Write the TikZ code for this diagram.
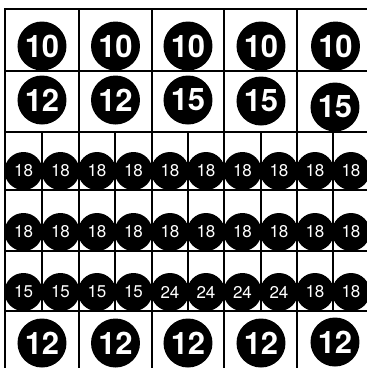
\documentclass[tikz,border=0pt]{standalone}
\usepackage{fontspec}
\newfontfamily\heros{TeX Gyre Heros}

\begin{document}
\begin{tikzpicture}[x=1pt,y=-1pt,
	big/.style={circle,fill=black,minimum size=49pt,inner sep=0pt,text=white,font=\heros\fontsize{31}{31}\selectfont\bfseries},
	small/.style={circle,fill=black,minimum size=38pt,inner sep=0pt,text=white,font=\heros\fontsize{17}{17}\selectfont},
	rule/.style={line width=2.3pt}]
	\definecolor{paper}{gray}{1.}
	\useasboundingbox (0,0) rectangle (367,368);
	\clip (0,0) rectangle (367,368);
	\fill[paper] (0,0) rectangle (367,368);
	%% Lines ------
	\draw[rule] (5,9) -- (369,9);
	\draw[rule] (5,71) -- (369,71);
	\draw[rule] (5,132) -- (369,132);
	\draw[rule] (5,190) -- (369,190);
	\draw[rule] (5,251) -- (369,251);
	\draw[rule] (5,311) -- (369,311);
	\draw[line width=2.8pt] (5,8) -- (5,369);
	\draw[rule] (79,9) -- (79,132) (152,9) -- (152,132) (224,9) -- (224,132) (297,9) -- (297,132);
	\draw[rule] (79,311) -- (79,369) (152,311) -- (152,369) (224,311) -- (224,369) (297,311) -- (297,369);
	\draw[rule] (42,132) -- (42,311) (79,132) -- (79,311) (115,132) -- (115,311) (152,132) -- (152,311) (188,132) -- (188,311);
	\draw[rule] (224,132) -- (224,311) (261,132) -- (261,311) (297,132) -- (297,311) (333,132) -- (333,311);
	%% Row 1 ------
	\node[big] (a1) at (42,46) {10};
	\node[big] (a2) at (115.5,46) {10};
	\node[big] (a3) at (188,46) {10};
	\node[big] (a4) at (261,46) {10};
	\node[big] (a5) at (335.5,46) {10};
	%% Row 2 ------
	\node[big] (b1) at (42,100) {12};
	\node[big] (b2) at (115.5,100) {12};
	\node[big] (b3) at (188,100) {15};
	\node[big] (b4) at (261,101) {15};
	\node[big] (b5) at (335,107) {15};
	%% Row 3 ------
	\node[small] (c1) at (23.5,171) {18};
	\node[small] (c2) at (60.5,171) {18};
	\node[small] (c3) at (97,171) {18};
	\node[small] (c4) at (133.5,171) {18};
	\node[small] (c5) at (170,171) {18};
	\node[small] (c6) at (206,171) {18};
	\node[small] (c7) at (242.5,171) {18};
	\node[small] (c8) at (279,171) {18};
	\node[small] (c9) at (315,171) {18};
	\node[small] (c10) at (351,171) {18};
	%% Row 4 ------
	\node[small] (d1) at (23.5,232) {18};
	\node[small] (d2) at (60.5,232) {18};
	\node[small] (d3) at (97,232) {18};
	\node[small] (d4) at (133.5,232) {18};
	\node[small] (d5) at (170,232) {18};
	\node[small] (d6) at (206,232) {18};
	\node[small] (d7) at (242.5,232) {18};
	\node[small] (d8) at (279,232) {18};
	\node[small] (d9) at (315,232) {18};
	\node[small] (d10) at (351,232) {18};
	%% Row 5 ------
	\node[small] (e1) at (23.5,292) {15};
	\node[small] (e2) at (60.5,292) {15};
	\node[small] (e3) at (97,292) {15};
	\node[small] (e4) at (133.5,292) {15};
	\node[small] (e5) at (170,292) {24};
	\node[small] (e6) at (206,292) {24};
	\node[small] (e7) at (242.5,292) {24};
	\node[small] (e8) at (279,292) {24};
	\node[small] (e9) at (315,292) {18};
	\node[small] (e10) at (351,292) {18};
	%% Row 6 ------
	\node[big] (f1) at (42,343) {12};
	\node[big] (f2) at (115.5,343) {12};
	\node[big] (f3) at (188,343) {12};
	\node[big] (f4) at (261,343) {12};
	\node[big] (f5) at (335,342) {12};
\end{tikzpicture}
\end{document}
